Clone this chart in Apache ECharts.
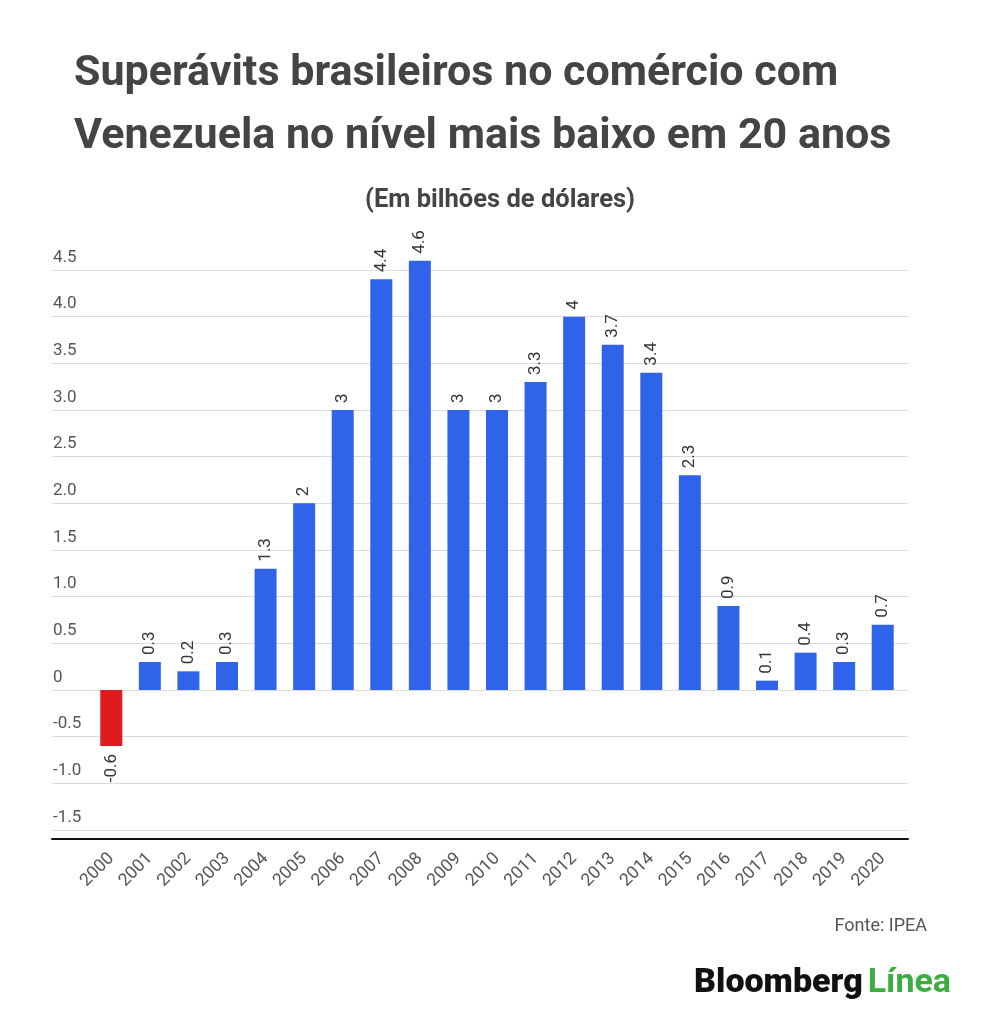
<!DOCTYPE html>
<html>
<head>
<meta charset="utf-8">
<script src="https://cdn.jsdelivr.net/npm/echarts@6/dist/echarts.min.js"></script>
<style>
html,body{margin:0;padding:0;background:#fff;}
#chart{width:1000px;height:1024px;}
</style>
</head>
<body>
<div id="chart"></div>
<script>
const years = ['2000','2001','2002','2003','2004','2005','2006','2007','2008','2009','2010','2011','2012','2013','2014','2015','2016','2017','2018','2019','2020'];
const surplus = [-0.6, 0.3, 0.2, 0.3, 1.3, 2, 3, 4.4, 4.6, 3, 3, 3.3, 4, 3.7, 3.4, 2.3, 0.9, 0.1, 0.4, 0.3, 0.7];
const yMin = -1.5, yMax = 4.5, yStep = 0.5;
const titleText = 'Superávits brasileiros no comércio com\nVenezuela no nível mais baixo em 20 anos';
const subtitleText = '(Em bilhões de dólares)';
const sourceText = 'Fonte: IPEA';

const BLUE = '#2f64ea', RED = '#dc1c1e';
const FONT = 'Roboto';

const chart = echarts.init(document.getElementById('chart'), null, {renderer: 'canvas'});

const barData = surplus.map(v => {
  if (v < 0) {
    return {
      value: v,
      itemStyle: {color: RED},
      label: {position: 'bottom', align: 'right', distance: 8}
    };
  }
  return {value: v};
});

chart.setOption({
  backgroundColor: '#fff',
  animation: false,
  title: [
    {
      text: titleText,
      left: 69, top: 38,
      textStyle: {fontFamily: FONT, fontWeight: 'bold', fontSize: 43, color: '#444', lineHeight: 63}
    },
    {
      text: subtitleText,
      left: 'center', top: 183,
      textStyle: {fontFamily: FONT, fontWeight: 'bold', fontSize: 25.5, color: '#444'}
    },
    {
      text: sourceText,
      right: 68, top: 912,
      textStyle: {fontFamily: FONT, fontWeight: 'normal', fontSize: 18, color: '#555'}
    },
    {
      text: '{b|Bloomberg} {g|Línea}',
      right: 44, top: 961,
      textStyle: {
        rich: {
          b: {fontFamily: FONT, fontWeight: 900, fontSize: 34, color: '#111'},
          g: {fontFamily: FONT, fontWeight: 'bold', fontSize: 34, color: '#3bae3f'}
        }
      }
    }
  ],
  grid: [
    {left: 52, right: 92, top: 270, bottom: 194},
    {left: 92, right: 98, top: 270, bottom: 194}
  ],
  xAxis: [
    {
      gridIndex: 0, type: 'category', data: years,
      offset: 9,
      axisLine: {show: true, onZero: false, lineStyle: {color: '#111', width: 2}},
      axisTick: {show: false}, axisLabel: {show: false}, splitLine: {show: false}
    },
    {
      gridIndex: 1, type: 'category', data: years,
      offset: 9,
      axisLine: {show: false, onZero: false}, axisTick: {show: false},
      axisLabel: {rotate: 45, margin: 17, fontFamily: FONT, fontSize: 17.5, color: '#555', interval: 0}
    }
  ],
  yAxis: [
    {
      gridIndex: 0, type: 'value', min: yMin, max: yMax, interval: yStep,
      axisLine: {show: false}, axisTick: {show: false},
      splitLine: {show: true, lineStyle: {color: '#dcdcdc', width: 1}},
      axisLabel: {
        inside: true, margin: 1, verticalAlign: 'bottom', padding: [0, 0, 4, 0],
        fontFamily: FONT, fontSize: 17, color: '#555',
        formatter: v => (v === 0 ? '0' : v.toFixed(1))
      }
    },
    {
      gridIndex: 1, type: 'value', min: yMin, max: yMax, interval: yStep,
      show: false, splitLine: {show: false}
    }
  ],
  series: [{
    type: 'bar',
    xAxisIndex: 1, yAxisIndex: 1,
    data: barData,
    barWidth: 22,
    clip: false,
    itemStyle: {color: BLUE},
    label: {
      show: true, position: 'top', rotate: 90, align: 'left', verticalAlign: 'middle',
      distance: 7, fontFamily: FONT, fontSize: 17, color: '#333',
      formatter: p => String(p.value)
    }
  }]
});
</script>
</body>
</html>
